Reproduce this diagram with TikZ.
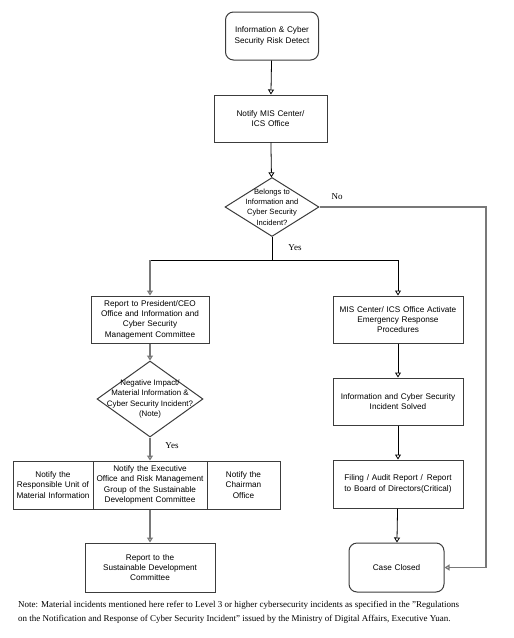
\documentclass[tikz,border=0pt]{standalone}
\usepackage{fontspec}
\setmainfont{Liberation Serif}
\setsansfont{Liberation Sans}
\usetikzlibrary{arrows.meta,positioning,shapes.geometric}
\definecolor{FlowGray}{RGB}{120,120,120}
\definecolor{BoxEdge}{RGB}{60,60,60}

\begin{document}
\begin{tikzpicture}[x=1pt,y=-1pt,>={Triangle[open,length=5pt,width=6pt]},
  box/.style={draw=BoxEdge,line width=1pt,align=center,inner sep=0pt,
              minimum height=47pt,font=\sffamily\fontsize{8.2}{10.4}\selectfont},
  decision/.style={diamond,draw=BoxEdge,line width=1pt,inner sep=0pt},
  dtext/.style={align=center,inner sep=0pt,font=\sffamily\fontsize{7.6}{10.3}\selectfont},
  flow/.style={black,line width=0.8pt},
  grayflow/.style={FlowGray,line width=1.5pt},
  lbl/.style={font=\fontsize{9}{11}\selectfont}]
  \useasboundingbox (0,0) rectangle (514,638);

  % top of the flow
  \node[box,rounded corners=8pt,text width=93pt,minimum height=48pt] (detect) at (272,36)
        {Information \& Cyber\\Security Risk Detect};
  \node[box,text width=113pt] (notify) at (270.5,118.5) {Notify MIS Center/\\ICS Office};
  \node[decision,minimum width=94pt,minimum height=59pt] (belong) at (272,207) {};
  \node[dtext] (belongtxt) at (belong) {Belongs to\\Information and\\Cyber Security\\Incident?};
  \coordinate (split) at (272,260);
  \coordinate (leftdrop) at (150,260);
  \coordinate (noturn) at (486,207);

  % left branch
  \node[box,text width=118pt] (ceo) at (150,319.5)
        {Report to President/CEO\\Office and Information and\\Cyber Security\\Management Committee};
  \node[decision,minimum width=106pt,minimum height=76pt] (impact) at (150,399) {};
  \node[dtext,font=\sffamily\fontsize{7.9}{10.4}\selectfont] (impacttxt) at (impact)
        {Negative Impact/\\Material Information \&\\Cyber Security Incident?\\(Note)};
  \node[box,text width=80pt,minimum height=48pt] (unit) at (53,485)
        {Notify the\\Responsible Unit of\\Material Information};
  \node[box,text width=114pt,minimum height=48pt] (exec) at (150,485)
        {Notify the Executive\\Office and Risk Management\\Group of the Sustainable\\Development Committee};
  \node[box,text width=73pt,minimum height=48pt] (chair) at (243.5,485)
        {Notify the\\Chairman\\Office};
  \node[box,text width=130pt,minimum height=49pt] (sdc) at (150,567.5)
        {Report to the\\Sustainable Development\\Committee};

  % right branch
  \node[box,text width=130pt] (emerg) at (398,319.5)
        {MIS Center/ ICS Office Activate\\Emergency Response\\Procedures};
  \node[box,text width=130pt] (solved) at (398,401.5)
        {Information and Cyber Security\\Incident Solved};
  \node[box,text width=130pt,minimum height=48pt] (filing) at (398,484)
        {Filing / Audit Report /\enspace Report\\to Board of Directors(Critical)};
  \node[box,rounded corners=8pt,text width=95pt,minimum height=49pt] (closed) at (396.5,567.5)
        {Case Closed};

  % labels
  \node[lbl] (nolbl) at (337,197) {No};
  \node[lbl] (yeslbl) at (295,248) {Yes};
  \node[lbl] (yesimp) at (172,446) {Yes};

  % connectors
  \draw[flow,->] (detect) -- (notify);
  \draw[flow,->] (notify) -- (belong);
  \draw[flow] (belong) -- (split);
  \draw[flow,->] (leftdrop) -| (emerg);
  \draw[grayflow,->] (leftdrop) -- (ceo);
  \draw[grayflow,->] (belong.east) -- (noturn) |- (closed);
  \draw[grayflow,->] (ceo) -- (impact);
  \draw[grayflow,->] (impact) -- (exec);
  \draw[grayflow,->] (exec) -- (sdc);
  \draw[flow,->] (emerg) -- (solved);
  \draw[flow,->] (solved) -- (filing);
  \draw[flow,->] (filing) -- (closed);

  % note under the chart
  \node[anchor=north west,align=left,inner sep=0pt,font=\fontsize{9}{14}\selectfont] (note) at (18,601)
        {Note: Material incidents mentioned here refer to Level 3 or higher cybersecurity incidents as specified in the "Regulations\\
         on the Notification and Response of Cyber Security Incident" issued by the Ministry of Digital Affairs, Executive Yuan.};
\end{tikzpicture}
\end{document}
